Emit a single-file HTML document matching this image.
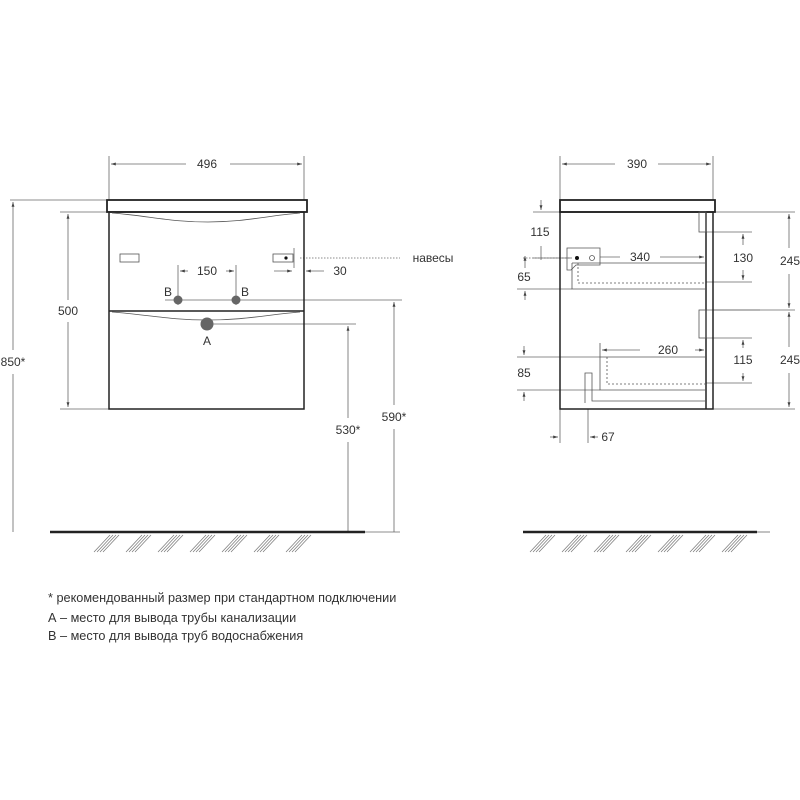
<!DOCTYPE html>
<html><head><meta charset="utf-8"><style>
html,body{margin:0;padding:0;background:#fff}
svg{display:block}
text{font-family:"Liberation Sans",sans-serif;font-size:12px;fill:#333}
text.f{font-size:12.7px}
</style></head><body>
<svg width="800" height="800" viewBox="0 0 800 800" xmlns="http://www.w3.org/2000/svg">
<defs>
<marker id="a" viewBox="0 0 10 10" refX="10" refY="5" markerWidth="6" markerHeight="6" orient="auto-start-reverse"><path d="M0,2 L10,5 L0,8 z" fill="#444"/></marker>
</defs>
<g stroke="#666" stroke-width="0.8" fill="none">
<line x1="109" y1="156" x2="109" y2="200"/><line x1="304" y1="156" x2="304" y2="200"/>
<line x1="111" y1="164" x2="186" y2="164" marker-start="url(#a)"/><line x1="230" y1="164" x2="302" y2="164" marker-end="url(#a)"/>
<line x1="10" y1="200" x2="107" y2="200"/>
<line x1="13" y1="202" x2="13" y2="350" marker-start="url(#a)"/><line x1="13" y1="374" x2="13" y2="532"/>
<line x1="60" y1="212" x2="109" y2="212"/><line x1="60" y1="409" x2="109" y2="409"/>
<line x1="68" y1="214" x2="68" y2="300" marker-start="url(#a)"/><line x1="68" y1="322" x2="68" y2="407" marker-end="url(#a)"/>
<line x1="178" y1="265" x2="178" y2="305"/><line x1="236" y1="265" x2="236" y2="305"/>
<line x1="180" y1="271" x2="188" y2="271" marker-start="url(#a)"/><line x1="226" y1="271" x2="234" y2="271" marker-end="url(#a)"/>
<line x1="294" y1="248" x2="294" y2="268"/>
<line x1="274" y1="271" x2="292" y2="271" marker-end="url(#a)"/><line x1="324" y1="271" x2="306" y2="271" marker-end="url(#a)"/>
<line x1="165" y1="300" x2="402" y2="300"/>
<line x1="207" y1="324" x2="356" y2="324"/>
<line x1="348" y1="326" x2="348" y2="418" marker-start="url(#a)"/><line x1="348" y1="442" x2="348" y2="532"/>
<line x1="394" y1="302" x2="394" y2="405" marker-start="url(#a)"/><line x1="394" y1="429" x2="394" y2="532"/>
<line x1="300" y1="258" x2="400" y2="258" stroke-dasharray="1.5 1.5"/>
<line x1="523" y1="258" x2="570" y2="258" stroke-dasharray="1.5 1.5"/>
<line x1="365" y1="532" x2="400" y2="532"/>
</g>
<g stroke="#222" stroke-width="1.5" fill="none">
<rect x="107" y="200" width="200" height="12" stroke-width="1.8"/>
<rect x="109" y="212" width="195" height="197"/>
<line x1="109" y1="311" x2="304" y2="311"/>
</g>
<g stroke="#555" stroke-width="0.8" fill="none">
<path d="M112,213 C150,216 170,222 208,222 C245,222 265,216 300,213"/>
<path d="M112,312 C150,315 170,320 208,320 C245,320 265,315 300,312"/>
<rect x="120" y="254" width="19" height="8"/>
<rect x="273" y="254" width="20" height="8"/>
</g>
<circle cx="286" cy="258" r="1.6" fill="#111"/>
<circle cx="178" cy="300" r="4.5" fill="#666"/><circle cx="236" cy="300" r="4.5" fill="#666"/>
<circle cx="207" cy="324" r="6.5" fill="#666"/>
<text x="207" y="168" text-anchor="middle">496</text>
<text x="13" y="366" text-anchor="middle">850*</text>
<text x="68" y="315" text-anchor="middle">500</text>
<text x="207" y="275" text-anchor="middle">150</text>
<text x="340" y="275" text-anchor="middle">30</text>
<text x="168" y="296" text-anchor="middle">B</text><text x="245" y="296" text-anchor="middle">B</text>
<text x="207" y="345" text-anchor="middle">A</text>
<text x="348" y="434" text-anchor="middle">530*</text>
<text x="394" y="421" text-anchor="middle">590*</text>
<text x="433" y="262" text-anchor="middle">навесы</text>

<g stroke="#666" stroke-width="0.8" fill="none">
<line x1="560" y1="156" x2="560" y2="200"/><line x1="713" y1="156" x2="713" y2="200"/>
<line x1="562" y1="164" x2="615" y2="164" marker-start="url(#a)"/><line x1="658" y1="164" x2="711" y2="164" marker-end="url(#a)"/>
<line x1="533" y1="212" x2="560" y2="212"/>
<line x1="541" y1="200" x2="541" y2="210" marker-end="url(#a)"/>
<line x1="541" y1="246" x2="541" y2="260"/>
<line x1="533" y1="258" x2="572" y2="258"/>
<line x1="525" y1="256" x2="525" y2="268" marker-start="url(#a)"/>
<line x1="525" y1="300" x2="525" y2="291" marker-end="url(#a)"/>
<line x1="517" y1="289" x2="572" y2="289"/>
<line x1="600" y1="257" x2="620" y2="257"/><line x1="660" y1="257" x2="704" y2="257" marker-end="url(#a)"/>
<line x1="713" y1="212" x2="795" y2="212"/><line x1="713" y1="310" x2="795" y2="310"/><line x1="713" y1="409" x2="795" y2="409"/>
<line x1="789" y1="214" x2="789" y2="248" marker-start="url(#a)"/><line x1="789" y1="274" x2="789" y2="308" marker-end="url(#a)"/>
<line x1="789" y1="312" x2="789" y2="347" marker-start="url(#a)"/><line x1="789" y1="373" x2="789" y2="407" marker-end="url(#a)"/>
<line x1="706" y1="232" x2="752" y2="232"/><line x1="706" y1="282" x2="752" y2="282"/>
<line x1="743" y1="234" x2="743" y2="245" marker-start="url(#a)"/><line x1="743" y1="270" x2="743" y2="280" marker-end="url(#a)"/>
<line x1="706" y1="338" x2="752" y2="338"/><line x1="706" y1="383" x2="752" y2="383"/>
<line x1="743" y1="340" x2="743" y2="348" marker-start="url(#a)"/><line x1="743" y1="373" x2="743" y2="381" marker-end="url(#a)"/>
<line x1="602" y1="350" x2="640" y2="350" marker-start="url(#a)"/><line x1="695" y1="350" x2="704" y2="350" marker-end="url(#a)"/>
<line x1="517" y1="357" x2="600" y2="357"/><line x1="517" y1="390" x2="600" y2="390"/>
<line x1="524" y1="346" x2="524" y2="355" marker-end="url(#a)"/><line x1="524" y1="401" x2="524" y2="392" marker-end="url(#a)"/>
<line x1="560" y1="409" x2="560" y2="443"/><line x1="588" y1="409" x2="588" y2="443"/>
<line x1="550" y1="437" x2="558" y2="437" marker-end="url(#a)"/><line x1="598" y1="437" x2="590" y2="437" marker-end="url(#a)"/>
<line x1="706" y1="310" x2="760" y2="310"/>
</g>
<g stroke="#222" stroke-width="1.5" fill="none">
<rect x="560" y="200" width="155" height="12" stroke-width="1.8"/>
<rect x="560" y="212" width="153" height="197"/>
<line x1="706" y1="212" x2="706" y2="409"/>
</g>
<g stroke="#555" stroke-width="0.8" fill="none">
<rect x="699" y="212" width="7" height="20"/>
<rect x="699" y="310" width="7" height="28"/>
<path d="M572,263 L572,289 L706,289 M572,263 L706,263"/>
<path d="M578,263 L578,283 L706,283" stroke-dasharray="2 2"/>
<path d="M600,343 L600,390 L706,390 M600,357 L706,357"/>
<path d="M607,357 L607,384 L706,384" stroke-dasharray="2 2"/>
<path d="M585,403 L585,373 L592,373 L592,401 L706,401"/>
<path d="M567,248 L600,248 L600,265 L576,265 L571,270 L567,270 Z"/>
<circle cx="592" cy="258" r="2.5"/>
</g>
<circle cx="577" cy="258" r="2" fill="#111"/>
<text x="637" y="168" text-anchor="middle">390</text>
<text x="540" y="236" text-anchor="middle">115</text>
<text x="524" y="281" text-anchor="middle">65</text>
<text x="640" y="261" text-anchor="middle">340</text>
<text x="743" y="262" text-anchor="middle">130</text>
<text x="790" y="265" text-anchor="middle">245</text>
<text x="790" y="364" text-anchor="middle">245</text>
<text x="668" y="354" text-anchor="middle">260</text>
<text x="743" y="364" text-anchor="middle">115</text>
<text x="524" y="377" text-anchor="middle">85</text>
<text x="608" y="441" text-anchor="middle">67</text>

<line x1="50" y1="532" x2="365" y2="532" stroke="#222" stroke-width="2.5"/>
<line x1="523" y1="532" x2="757" y2="532" stroke="#222" stroke-width="2.5"/>
<line x1="757" y1="532" x2="770" y2="532" stroke="#666" stroke-width="0.8"/>
<g stroke="#777" stroke-width="0.7">
<path d="M94,552 l16,-17 M97,552 l16,-17 M100,552 l16,-17 M103,552 l16,-17
M126,552 l16,-17 M129,552 l16,-17 M132,552 l16,-17 M135,552 l16,-17
M158,552 l16,-17 M161,552 l16,-17 M164,552 l16,-17 M167,552 l16,-17
M190,552 l16,-17 M193,552 l16,-17 M196,552 l16,-17 M199,552 l16,-17
M222,552 l16,-17 M225,552 l16,-17 M228,552 l16,-17 M231,552 l16,-17
M254,552 l16,-17 M257,552 l16,-17 M260,552 l16,-17 M263,552 l16,-17
M286,552 l16,-17 M289,552 l16,-17 M292,552 l16,-17 M295,552 l16,-17"/>
<path d="M530,552 l16,-17 M533,552 l16,-17 M536,552 l16,-17 M539,552 l16,-17
M562,552 l16,-17 M565,552 l16,-17 M568,552 l16,-17 M571,552 l16,-17
M594,552 l16,-17 M597,552 l16,-17 M600,552 l16,-17 M603,552 l16,-17
M626,552 l16,-17 M629,552 l16,-17 M632,552 l16,-17 M635,552 l16,-17
M658,552 l16,-17 M661,552 l16,-17 M664,552 l16,-17 M667,552 l16,-17
M690,552 l16,-17 M693,552 l16,-17 M696,552 l16,-17 M699,552 l16,-17
M722,552 l16,-17 M725,552 l16,-17 M728,552 l16,-17 M731,552 l16,-17"/>
</g>

<text class="f" x="48" y="602">* рекомендованный размер при стандартном подключении</text>
<text class="f" x="48" y="622">А – место для вывода трубы канализации</text>
<text class="f" x="48" y="640">В – место для вывода труб водоснабжения</text>
</svg>
</body></html>
